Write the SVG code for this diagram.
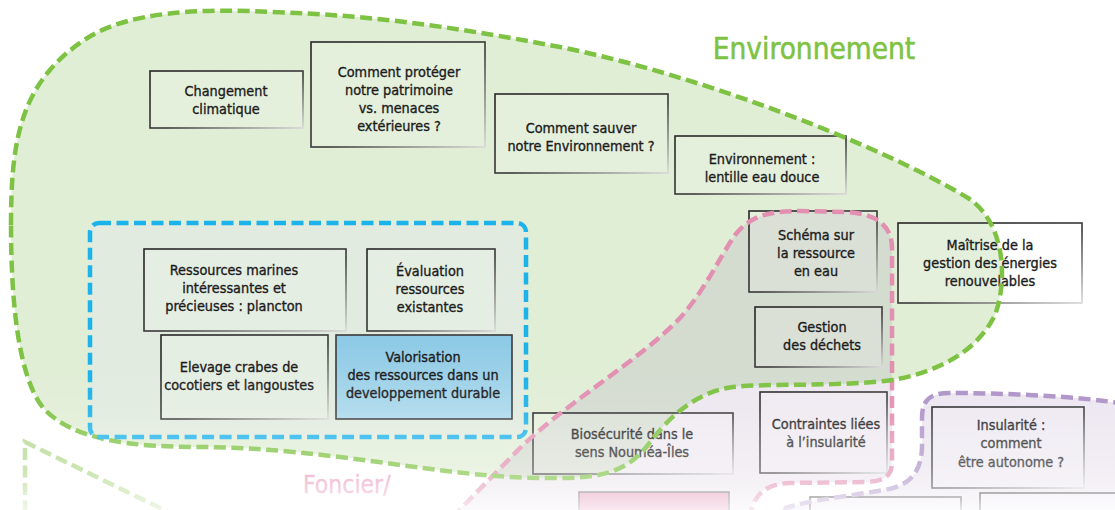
<svg xmlns="http://www.w3.org/2000/svg" width="1115" height="510" viewBox="0 0 1115 510">
<defs>
<style>
.t{font-family:"DejaVu Sans Condensed","DejaVu Sans",sans-serif;font-stretch:condensed;font-size:14.3px;fill:#1c1c1c;stroke:#1c1c1c;stroke-width:0.35px;text-anchor:middle}
.box{fill:#ffffff;fill-opacity:0.15;stroke:url(#bs);stroke-width:1.6}
.dash{fill:none;stroke-width:4.5;stroke-dasharray:12 5.5}
.big{font-family:"DejaVu Sans Condensed","DejaVu Sans",sans-serif;font-stretch:condensed}
</style>
<linearGradient id="bs" x1="0" y1="0" x2="1" y2="1">
<stop offset="0" stop-color="#262626"/><stop offset="0.55" stop-color="#3a3a3a"/><stop offset="1" stop-color="#d8d8d8"/>
</linearGradient>
<linearGradient id="val" x1="0" y1="0" x2="0" y2="1">
<stop offset="0" stop-color="#8cc9e5"/><stop offset="1" stop-color="#aedaec"/>
</linearGradient>
<linearGradient id="fade" gradientUnits="userSpaceOnUse" x1="0" y1="370" x2="0" y2="510">
<stop offset="0" stop-color="#fff" stop-opacity="0"/>
<stop offset="0.286" stop-color="#fff" stop-opacity="0.08"/>
<stop offset="0.479" stop-color="#fff" stop-opacity="0.22"/>
<stop offset="0.693" stop-color="#fff" stop-opacity="0.32"/>
<stop offset="0.786" stop-color="#fff" stop-opacity="0.42"/>
<stop offset="0.893" stop-color="#fff" stop-opacity="0.6"/>
<stop offset="1" stop-color="#fff" stop-opacity="0.8"/>
</linearGradient>
<path id="greenPath" d="M 11,225 C 11,140 20,80 89,37 C 129,12 200,8 270,12 C 380,15 470,30 560,47 C 700,75 880,145 968,198 C 1005,222 1008,280 995,315 C 978,350 940,372 892,380 C 840,387 770,383 733,387 C 695,392 668,418 648,445 C 628,470 605,478 560,478 C 500,479 445,471 400,465 C 330,455 260,447 200,447 C 130,447 75,440 45,410 C 18,380 11,300 11,225 Z"/>
<path id="pinkPath" d="M 440,530 L 520,448 C 570,400 640,360 680,318 C 705,290 718,260 735,235 C 750,216 768,211 800,211 L 845,212 C 875,213 892,225 892,248 L 892,462 C 892,476 884,481 868,482 L 790,483 C 765,484 750,494 748,530 Z"/>
<path id="purplePath" d="M 1125,404 C 1080,396 1000,393 950,393 C 930,393 922,400 922,418 L 922,448 C 921,472 910,486 884,490 C 850,496 810,500 786,508 L 770,530 L 1125,530 Z"/>
<clipPath id="gclip"><use href="#greenPath"/></clipPath>
</defs>

<rect width="1115" height="510" fill="#ffffff"/>

<g id="regions">
<use href="#purplePath" fill="#ece6f0"/>
<use href="#pinkPath" fill="#ede7ef"/>
<use href="#greenPath" fill="#e1eed6"/>
<use href="#pinkPath" fill="#d4dbcf" clip-path="url(#gclip)"/>
<rect x="90" y="223" width="436" height="214" rx="9" fill="#e1ebdf"/>
</g>

<g id="nodes">
<g id="n-changement"><rect class="box" x="150" y="71" width="153" height="57"/>
<text class="t"><tspan x="226" y="96">Changement</tspan><tspan x="226" y="114">climatique</tspan></text></g>
<g id="n-proteger"><rect class="box" x="311" y="42" width="174" height="105"/>
<text class="t"><tspan x="399" y="77">Comment protéger</tspan><tspan x="399" y="95">notre patrimoine</tspan><tspan x="399" y="113">vs. menaces</tspan><tspan x="399" y="131">extérieures ?</tspan></text></g>
<g id="n-sauver"><rect class="box" x="495" y="94" width="173" height="79"/>
<text class="t"><tspan x="581" y="133">Comment sauver</tspan><tspan x="581" y="151">notre Environnement ?</tspan></text></g>
<g id="n-lentille"><rect class="box" x="675" y="136" width="171" height="58"/>
<text class="t"><tspan x="762" y="164">Environnement :</tspan><tspan x="762" y="182">lentille eau douce</tspan></text></g>
<g id="n-schema"><rect class="box" x="749" y="211" width="128" height="81"/>
<text class="t"><tspan x="816" y="240">Schéma sur</tspan><tspan x="816" y="258">la ressource</tspan><tspan x="816" y="276">en eau</tspan></text></g>
<g id="n-maitrise"><rect class="box" x="898" y="223" width="184" height="80"/>
<text class="t"><tspan x="990" y="250">Maîtrise de la</tspan><tspan x="990" y="268">gestion des énergies</tspan><tspan x="990" y="286">renouvelables</tspan></text></g>
<g id="n-dechets"><rect class="box" x="755" y="307" width="127" height="60"/>
<text class="t"><tspan x="822" y="332">Gestion</tspan><tspan x="822" y="350">des déchets</tspan></text></g>
<g id="n-ressources"><rect class="box" x="144" y="249" width="202" height="82"/>
<text class="t"><tspan x="234" y="275">Ressources marines</tspan><tspan x="234" y="293">intéressantes et</tspan><tspan x="234" y="311">précieuses : plancton</tspan></text></g>
<g id="n-evaluation"><rect class="box" x="367" y="249" width="128" height="82"/>
<text class="t"><tspan x="430" y="276">Évaluation</tspan><tspan x="430" y="294">ressources</tspan><tspan x="430" y="312">existantes</tspan></text></g>
<g id="n-elevage"><rect class="box" x="161" y="335" width="167" height="84"/>
<text class="t"><tspan x="239" y="372">Elevage crabes de</tspan><tspan x="239" y="390">cocotiers et langoustes</tspan></text></g>
<g id="n-valorisation"><rect x="336" y="335" width="176" height="84" fill="url(#val)" stroke="#3a3a3a" stroke-width="1.6"/>
<text class="t"><tspan x="423" y="362">Valorisation</tspan><tspan x="423" y="380">des ressources dans un</tspan><tspan x="423" y="398">developpement durable</tspan></text></g>
<g id="n-contraintes"><rect class="box" x="760" y="392" width="127" height="81"/>
<text class="t"><tspan x="826" y="429">Contraintes liées</tspan><tspan x="826" y="447">à l’insularité</tspan></text></g>
<g id="n-biosecurite"><rect class="box" x="533" y="413" width="200" height="61"/>
<text class="t"><tspan x="632" y="439">Biosécurité dans le</tspan><tspan x="632" y="457">sens Nouméa-Îles</tspan></text></g>
<g id="n-insularite"><rect class="box" x="932" y="407" width="152" height="81"/>
<text class="t"><tspan x="1011" y="430">Insularité :</tspan><tspan x="1011" y="448">comment</tspan><tspan x="1011" y="467">être autonome ?</tspan></text></g>
<g id="n-bottom1"><rect x="579" y="492" width="150" height="30" fill="#e294b4" stroke="#666" stroke-width="1.6"/></g>
<g id="n-bottom2"><rect class="box" x="810" y="497" width="151" height="30"/></g>
<g id="n-bottom3"><rect class="box" x="980" y="493" width="150" height="30"/></g>
</g>

<g id="connectors">
<path d="M 25,530 L 25,442 L 205,530" class="dash" stroke="#b3d88e"/>
<use href="#pinkPath" class="dash" stroke="#e28fb1"/>
<use href="#purplePath" class="dash" stroke="#ad92c7"/>
<use href="#greenPath" class="dash" stroke="#7dc242"/>
<rect x="90" y="223" width="436" height="214" rx="9" class="dash" stroke="#1cb2ea" stroke-width="4.2"/>
</g>

<g id="labels">
<text class="big" x="814" y="59" font-size="29.5" fill="#7dc242" stroke="#7dc242" stroke-width="0.5" text-anchor="middle">Environnement</text>
<text class="big" x="303" y="493" font-size="24.5" fill="#ea9cbd" stroke="#ea9cbd" stroke-width="0.3">Foncier/</text>
</g>

<rect id="fade-overlay" x="0" y="370" width="1115" height="140" fill="url(#fade)"/>
</svg>
